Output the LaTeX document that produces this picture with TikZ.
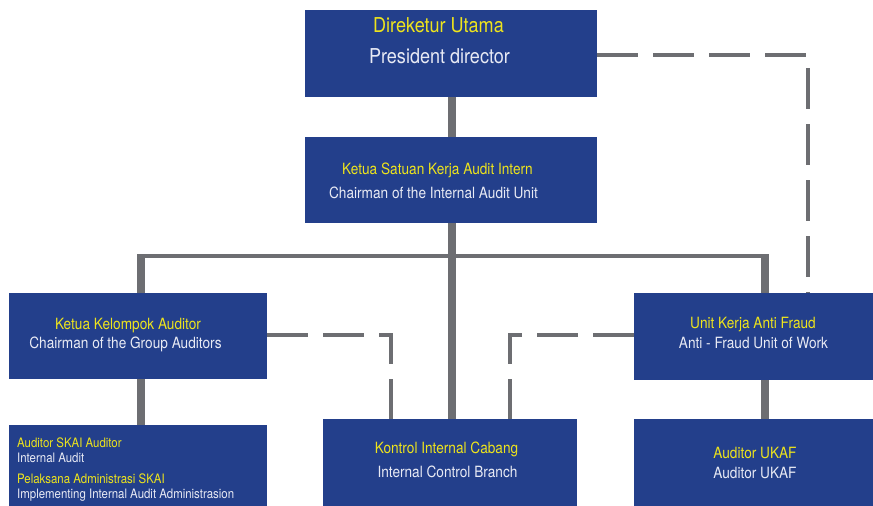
\documentclass[tikz,border=0pt]{standalone}
\usepackage{fontspec}
\usetikzlibrary{calc}
\setmainfont{TeX Gyre Heros}[FakeStretch=0.88]
\definecolor{boxblue}{HTML}{233F8B}
\definecolor{ttlyellow}{HTML}{EEE41C}
\definecolor{ttlwhite}{HTML}{E8EAF4}
\definecolor{linegray}{HTML}{6D6E72}
\tikzset{
  box/.style={fill=boxblue, draw=none, anchor=north west, inner sep=0pt, outer sep=0pt},
  thickline/.style={draw=linegray, line width=7.5pt},
  thinline/.style={draw=linegray, line width=4.5pt},
  dashline/.style={draw=linegray, line width=4.5pt, dash pattern=on 41pt off 15pt},
  big/.style={inner sep=0pt, anchor=base, font=\fontsize{20.5}{24}\selectfont},
  mid/.style={inner sep=0pt, anchor=base, font=\fontsize{15.5}{18}\selectfont},
  small/.style={inner sep=0pt, anchor=base west, font=\fontsize{13}{15}\selectfont},
  yel/.style={text=ttlyellow},
  wht/.style={text=ttlwhite}
}
\begin{document}
\begin{tikzpicture}[x=1pt, y=-1pt]
\useasboundingbox (0,0) rectangle (873,506);
\coordinate (busL) at (141,256);
\coordinate (busR) at (765,256);
\coordinate (dR) at (808,55);
\coordinate (dL) at (391,335);
\coordinate (dM) at (510,335);
\coordinate (mainx) at (452,0);
% boxes
\node[box, minimum width=292pt, minimum height=87pt] (pd) at (305,10) {};
\node[box, minimum width=292pt, minimum height=86pt] (ch) at (305,137) {};
\node[box, minimum width=258pt, minimum height=86pt] (kk) at (9,293) {};
\node[box, minimum width=258pt, minimum height=81pt] (sk) at (9,425) {};
\node[box, minimum width=254pt, minimum height=87pt] (kic) at (323,419) {};
\node[box, minimum width=239pt, minimum height=87pt] (uk) at (634,293) {};
\node[box, minimum width=239pt, minimum height=87pt] (ua) at (634,419) {};
% solid connectors
\draw[thickline] (pd.south -| mainx) -- (ch.north -| mainx);
\draw[thickline] (ch.south -| mainx) -- (kic.north -| mainx);
\draw[thinline] (busL) -- (busR);
\draw[thickline] ($(busL)+(0,-2)$) -- (busL |- kk.north);
\draw[thickline] ($(busR)+(0,-2)$) -- (busR |- uk.north);
\draw[thickline] (busL |- kk.south) -- (busL |- sk.north);
\draw[thickline] (busR |- uk.south) -- (busR |- ua.north);
% dashed connectors
\draw[dashline] (pd.east |- dR) -- (dR) -- (dR |- uk.north);
\draw[dashline] (kk.east |- dL) -- (dL) -- (dL |- kic.north);
\draw[dashline] (uk.west |- dM) -- (dM) -- (dM |- kic.north);
% texts
\node[big, yel] (pd1) at (438.5,32) {Direketur Utama};
\node[big, wht] (pd2) at (439.5,63) {President director};
\node[mid, yel] (ch1) at (437.5,174) {Ketua Satuan Kerja Audit Intern};
\node[mid, wht] (ch2) at (433.5,198) {Chairman of the Internal Audit Unit};
\node[mid, yel] (kk1) at (128,329) {Ketua Kelompok Auditor};
\node[mid, wht] (kk2) at (125.5,348) {Chairman of the Group Auditors};
\node[small, yel] (sk1) at (17,447) {Auditor SKAI Auditor};
\node[small, wht] (sk2) at (17,462) {Internal Audit};
\node[small, yel] (sk3) at (17,483) {Pelaksana Administrasi SKAI};
\node[small, wht] (sk4) at (17,498) {Implementing Internal Audit Administrasion};
\node[mid, yel] (kic1) at (446.5,453) {Kontrol Internal Cabang};
\node[mid, wht] (kic2) at (447.5,477) {Internal Control Branch};
\node[mid, yel] (uk1) at (753,328) {Unit Kerja Anti Fraud};
\node[mid, wht] (uk2) at (753.5,348) {Anti - Fraud Unit of Work};
\node[mid, yel] (ua1) at (755,458) {Auditor UKAF};
\node[mid, wht] (ua2) at (755,478) {Auditor UKAF};
\end{tikzpicture}
\end{document}
